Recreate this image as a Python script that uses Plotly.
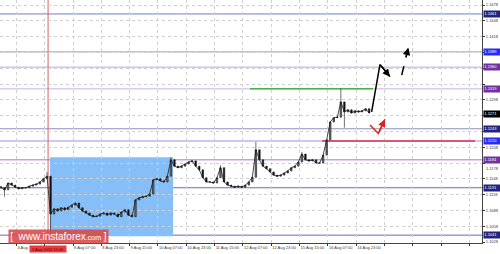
import plotly.graph_objects as go

# ---------------- data (EUR/USD H1, 2-hour steps) ----------------
closes = [1.1131, 1.1127, 1.1140, 1.1136, 1.1132, 1.1129, 1.1131, 1.1131, 1.1134, 1.1136,
          1.1138, 1.1142, 1.1148, 1.1153, 1.1081, 1.1091, 1.1087, 1.1093, 1.1089, 1.1094,
          1.1098, 1.1102, 1.1093, 1.1087, 1.1083, 1.1079, 1.1076, 1.1077, 1.1081, 1.1083,
          1.1079, 1.1083, 1.1081, 1.1076, 1.1085, 1.1089, 1.1079, 1.1076, 1.1108, 1.1112,
          1.1114, 1.1115, 1.1119, 1.1146, 1.1148, 1.1144, 1.1142, 1.1153, 1.1184, 1.1172,
          1.1169, 1.1172, 1.1176, 1.1180, 1.1182, 1.1172, 1.1165, 1.1150, 1.1142, 1.1142,
          1.1140, 1.1150, 1.1169, 1.1142, 1.1136, 1.1134, 1.1132, 1.1134, 1.1132, 1.1136,
          1.1142, 1.1151, 1.1203, 1.1184, 1.1172, 1.1167, 1.1161, 1.1155, 1.1153, 1.1155,
          1.1159, 1.1163, 1.1169, 1.1172, 1.1180, 1.1195, 1.1184, 1.1182, 1.1184, 1.1178,
          1.1178, 1.1193, 1.1222, 1.1256, 1.1264, 1.1265, 1.1294, 1.1275, 1.1279, 1.1273,
          1.1277, 1.1275, 1.1277, 1.1281, 1.1273]
first_open = 1.1133
spike_hi_idx = [13, 48, 62, 72, 85, 96]
spike_hi_val = [1.1161, 1.1189, 1.1174, 1.1218, 1.1199, 1.1319]
spike_lo_idx = [1, 14, 97]
spike_lo_val = [1.1114, 1.1045, 1.1245]
hours_per_candle = 2

time_tick_pos = [-7.3, 8.7, 24.7, 40.7, 56.7, 72.7, 88.7, 104.7, 120.7, 136.7,
                 152.7, 168.7, 184.7, 200.7, 216.7, 232.7, 248.7, 264.7]
# the 4 Aug 23:00 / 5 Aug 15:00 labels are mostly covered by the cursor box in the reference
time_tick_text = ["4 Aug 07:00", "4 Aug", "", "8 Aug 07:00", "8 Aug 23:00",
                  "9 Aug 15:00", "10 Aug 07:00", "10 Aug 23:00", "11 Aug 15:00",
                  "12 Aug 07:00", "12 Aug 23:00", "15 Aug 15:00", "16 Aug 07:00",
                  "16 Aug 23:00", "", "", "", ""]
price_ticks = [1.1028, 1.1058, 1.1088, 1.1118, 1.1148, 1.1178, 1.1208, 1.1238,
               1.1268, 1.1298, 1.1328, 1.1358, 1.1388, 1.1418, 1.1448, 1.1478]
# labels hidden behind the level boxes in the reference are blank;
# 1.1178 is drawn separately, nudged below its level box
price_tick_text = ["1.1028", "1.1058", "1.1088", "1.1118", "1.1148", "", "1.1208", "",
                   "", "1.1298", "", "", "", "1.1418", "1.1448", "1.1478"]
nudged_tick = 1.1178

level_prices = [1.1461, 1.1389, 1.1360, 1.1319, 1.1243, 1.1220, 1.1184, 1.1131, 1.1041]
level_line_colors = ["#7a7ac8", "#9a9af2", "#c4a6dc", "#dccbec", "#8e8eba",
                     "#c8c8fa", "#a678c8", "#6c6cb8", "#6c6cb8"]
level_line_widths = [1, 1, 1, 1.5, 1, 2, 1, 1, 1]
level_box_colors = ["#24247e", "#2a2af5", "#73309e", "#73309e", "#24247e",
                    "#2a2af5", "#73309e", "#24247e", "#24247e"]
current_price = 1.1271

zone_t = [27.7, 97.2]
zone_p = [1.1039, 1.1189]
cursor_t = 26.6
cursor_text = "5 Aug 2016 15:00"

green_t = [140.7, 210.2]
green_p = 1.1319
red_level_t = [181.4, 267.8]
red_level_p = 1.1220

black_path_t = [209.4, 214.1, 219.8]
black_path_p = [1.1275, 1.1365, 1.1342]
dash_path_t = [226.4, 230.1]
dash_path_p = [1.1345, 1.1397]
red_path_t = [208.5, 213.2, 216.9]
red_path_p = [1.1250, 1.1234, 1.1261]

# ---------------- build OHLC ----------------
t = [hours_per_candle * k for k in range(len(closes))]
opens = [first_open] + closes[:-1]
highs = [max(o, c) for o, c in zip(opens, closes)]
lows = [min(o, c) for o, c in zip(opens, closes)]
for i, v in zip(spike_hi_idx, spike_hi_val):
    highs[i] = max(highs[i], v)
for i, v in zip(spike_lo_idx, spike_lo_val):
    lows[i] = min(lows[i], v)

FONT = "Liberation Sans"
TICK_COLOR = "#3a3a3a"
fig = go.Figure()

fig.add_trace(go.Scatter(x=t, y=closes, mode="lines", line=dict(color="#1a1a1a", width=0.8),
                         showlegend=False, hoverinfo="skip"))
fig.add_trace(go.Candlestick(
    x=t, open=opens, high=highs, low=lows, close=closes,
    increasing=dict(line=dict(color="#111", width=0.6), fillcolor="#777"),
    decreasing=dict(line=dict(color="#111", width=0.6), fillcolor="#111"),
    whiskerwidth=0, showlegend=False, hoverinfo="skip"))

shapes = []
shapes.append(dict(type="rect", xref="x", yref="y", x0=zone_t[0], x1=zone_t[1],
                   y0=zone_p[0], y1=zone_p[1], fillcolor="#86bff7",
                   line=dict(width=0), layer="below"))
for p, c, w in zip(level_prices, level_line_colors, level_line_widths):
    shapes.append(dict(type="line", xref="paper", yref="y", x0=0, x1=1, y0=p, y1=p,
                       line=dict(color=c, width=w), layer="between"))
shapes.append(dict(type="line", xref="x", yref="y", x0=green_t[0], x1=green_t[1],
                   y0=green_p, y1=green_p, line=dict(color="#4cae4c", width=1.5),
                   layer="between"))
shapes.append(dict(type="line", xref="x", yref="y", x0=red_level_t[0], x1=red_level_t[1],
                   y0=red_level_p, y1=red_level_p, line=dict(color="#e0304a", width=1.5),
                   layer="between"))
shapes.append(dict(type="line", xref="x", yref="paper", x0=cursor_t, x1=cursor_t,
                   y0=0, y1=1, line=dict(color="#d86060", width=1), layer="between"))

fig.add_trace(go.Scatter(x=black_path_t, y=black_path_p, mode="lines",
                         line=dict(color="black", width=1.5), showlegend=False,
                         hoverinfo="skip"))
fig.add_trace(go.Scatter(x=dash_path_t, y=dash_path_p, mode="lines",
                         line=dict(color="black", width=1.5, dash="dash"), showlegend=False,
                         hoverinfo="skip"))
fig.add_trace(go.Scatter(x=red_path_t, y=red_path_p, mode="lines",
                         line=dict(color="#e02020", width=1.5), showlegend=False,
                         hoverinfo="skip"))

annotations = []


def arrow(tx, ty, hx, hy, color):
    return dict(x=hx, y=hy, ax=tx, ay=ty, xref="x", yref="y", axref="x", ayref="y",
                showarrow=True, arrowhead=2, arrowsize=1, arrowwidth=1.5,
                arrowcolor=color, text="")


annotations.append(arrow(black_path_t[-2], black_path_p[-2], black_path_t[-1], black_path_p[-1], "black"))
mid_t = dash_path_t[0] + 0.6 * (dash_path_t[1] - dash_path_t[0])
mid_p = dash_path_p[0] + 0.6 * (dash_path_p[1] - dash_path_p[0])
annotations.append(arrow(mid_t, mid_p, dash_path_t[1], dash_path_p[1], "black"))
annotations.append(arrow(red_path_t[-2], red_path_p[-2], red_path_t[-1], red_path_p[-1], "#e02020"))

# nudged gray tick label
annotations.append(dict(xref="paper", yref="y", x=1, y=nudged_tick, xanchor="left",
                        yanchor="top", xshift=3, yshift=-1.5, text="%.4f" % nudged_tick,
                        showarrow=False, font=dict(family=FONT, size=4, color=TICK_COLOR),
                        borderpad=0))

for p, bc in zip(level_prices, level_box_colors):
    annotations.append(dict(xref="paper", yref="y", x=1, y=p, xanchor="left", yanchor="middle",
                            xshift=1, text="%.4f" % p, showarrow=False, bgcolor=bc,
                            font=dict(family=FONT, size=4, color="white"),
                            borderpad=0.3, width=15, align="left"))
annotations.append(dict(xref="paper", yref="y", x=1, y=current_price, xanchor="left",
                        yanchor="middle", xshift=1, text="%.4f" % current_price,
                        showarrow=False, bgcolor="black",
                        font=dict(family=FONT, size=4, color="white"),
                        borderpad=0.3, width=15, align="left"))
annotations.append(dict(xref="x", yref="paper", x=cursor_t, y=0, yanchor="top",
                        xanchor="center", yshift=-2, text=cursor_text, showarrow=False,
                        bgcolor="#ee3a3a", font=dict(family=FONT, size=4, color="#5a0000"),
                        borderpad=0.5, width=35))
annotations.append(dict(xref="paper", yref="paper", x=8 / 482, y=(243 - 236.5) / 243,
                        xanchor="left", yanchor="middle",
                        text="[ &nbsp;www.instaforex<span style='font-size:7px'>.com</span> ]",
                        showarrow=False, bgcolor="rgba(218,72,72,0.88)",
                        font=dict(family=FONT, size=10, color="white"),
                        width=99, height=13, borderpad=0))

fig.update_layout(
    width=500, height=254, margin=dict(l=0, r=18, t=0, b=11, autoexpand=False),
    paper_bgcolor="white", plot_bgcolor="white", boxgap=0.4,
    shapes=shapes, annotations=annotations, showlegend=False,
    xaxis=dict(range=[-0.56, 271.75], tickmode="array", tickvals=time_tick_pos,
               ticktext=time_tick_text, ticklabelposition="outside right", tickangle=0,
               tickfont=dict(family=FONT, size=4, color=TICK_COLOR),
               ticks="outside", ticklen=2, tickcolor="#333", automargin=False,
               showgrid=True, gridcolor="#cfcfcf", griddash="dot", gridwidth=1,
               showline=True, linecolor="#444", linewidth=1,
               rangeslider=dict(visible=False), zeroline=False, fixedrange=True),
    yaxis=dict(range=[1.10261, 1.14875], side="right", tickmode="array",
               tickvals=price_ticks, ticktext=price_tick_text, automargin=False,
               tickfont=dict(family=FONT, size=4, color=TICK_COLOR),
               ticks="outside", ticklen=2, tickcolor="#333",
               showgrid=True, gridcolor="#cfcfcf", griddash="dot", gridwidth=1,
               showline=True, linecolor="#444", linewidth=1, zeroline=False,
               fixedrange=True),
)

fig.write_html("out.html")
